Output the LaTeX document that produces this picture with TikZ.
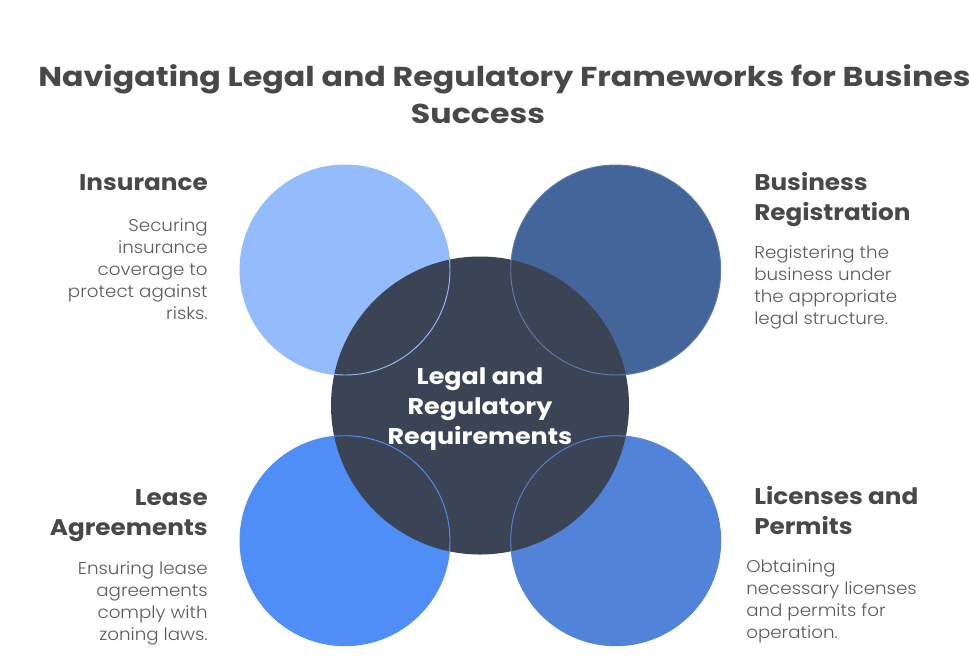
\documentclass[tikz,border=0pt]{standalone}
\usepackage{fontspec}
\setmainfont{Poppins}[FakeStretch=1.09]
\newfontfamily\titlefont{Poppins}[FakeStretch=1.16]
\newfontfamily\midfont{Poppins}[FakeStretch=1.12]
\newfontfamily\bodyfont{Poppins Light}[FakeStretch=1.07]
\definecolor{cA}{HTML}{94BBFC}
\definecolor{cB}{HTML}{436599}
\definecolor{cC}{HTML}{4F8EF7}
\definecolor{cD}{HTML}{5183D9}
\definecolor{cMid}{HTML}{3A4455}
\definecolor{headc}{HTML}{484848}
\definecolor{bodyc}{HTML}{5A5A5A}
\tikzset{
  smallc/.style={circle, inner sep=0pt, minimum size=157.5pt},
  bigc/.style={circle, inner sep=0pt, minimum size=223.5pt, fill=cMid},
  ring/.style={line width=0.7pt},
  headtxt/.style={inner sep=0pt, text=headc, font=\bfseries\fontsize{17}{22.5}\selectfont},
  bodytxt/.style={inner sep=0pt, text=bodyc, font=\bodyfont\fontsize{12.8}{16.5}\selectfont},
  titletxt/.style={inner sep=0pt, text=headc, font=\titlefont\bfseries\fontsize{20.5}{27.75}\selectfont},
  midtxt/.style={inner sep=0pt, text=white, align=center, font=\midfont\bfseries\fontsize{17}{22.5}\selectfont}
}
\begin{document}
\begin{tikzpicture}[x=0.75pt, y=-0.75pt]
\useasboundingbox (0,0) rectangle (969,662);
\clip (0,0) rectangle (969,662);
% title
\node[titletxt, anchor=base west] (t1) at (38,86) {Navigating Legal and Regulatory Frameworks for Business};
\node[titletxt, anchor=base] (t2) at (478,123) {Success};
% circles
\node[smallc, fill=cA] (ins) at (345,270) {};
\node[smallc, fill=cB] (reg) at (615.7,270) {};
\node[smallc, fill=cC] (lea) at (345,540.7) {};
\node[smallc, fill=cD] (lic) at (615.7,540.7) {};
\node[bigc] (mid) at (480,405.5) {};
\draw[ring, cA] (ins.center) circle[radius=105];
\draw[ring, cB!85!white] (reg.center) circle[radius=105];
\draw[ring, cC] (lea.center) circle[radius=105];
\draw[ring, cD] (lic.center) circle[radius=105];
\node[midtxt, anchor=base] (midt) at (480,444) {Legal and\\Regulatory\\Requirements};
% left texts
\node[headtxt, anchor=base east, align=right] (h1) at (208,190) {Insurance};
\node[bodytxt, anchor=base east, align=right] (b1) at (208,319) {Securing\\insurance\\coverage to\\protect against\\risks.};
\node[headtxt, anchor=base east, align=right] (h3) at (208,535) {Lease\\Agreements};
\node[bodytxt, anchor=base east, align=right] (b3) at (208,640) {Ensuring lease\\agreements\\comply with\\zoning laws.};
% right texts
\node[headtxt, anchor=base west, align=left] (h2) at (754,220) {Business\\Registration};
\node[bodytxt, anchor=base west, align=left] (b2) at (754,324) {Registering the\\business under\\the appropriate\\legal structure.};
\node[headtxt, anchor=base west, align=left] (h4) at (754,534) {Licenses and\\Permits};
\node[bodytxt, anchor=base west, align=left] (b4) at (746,638) {Obtaining\\necessary licenses\\and permits for\\operation.};
\end{tikzpicture}
\end{document}
